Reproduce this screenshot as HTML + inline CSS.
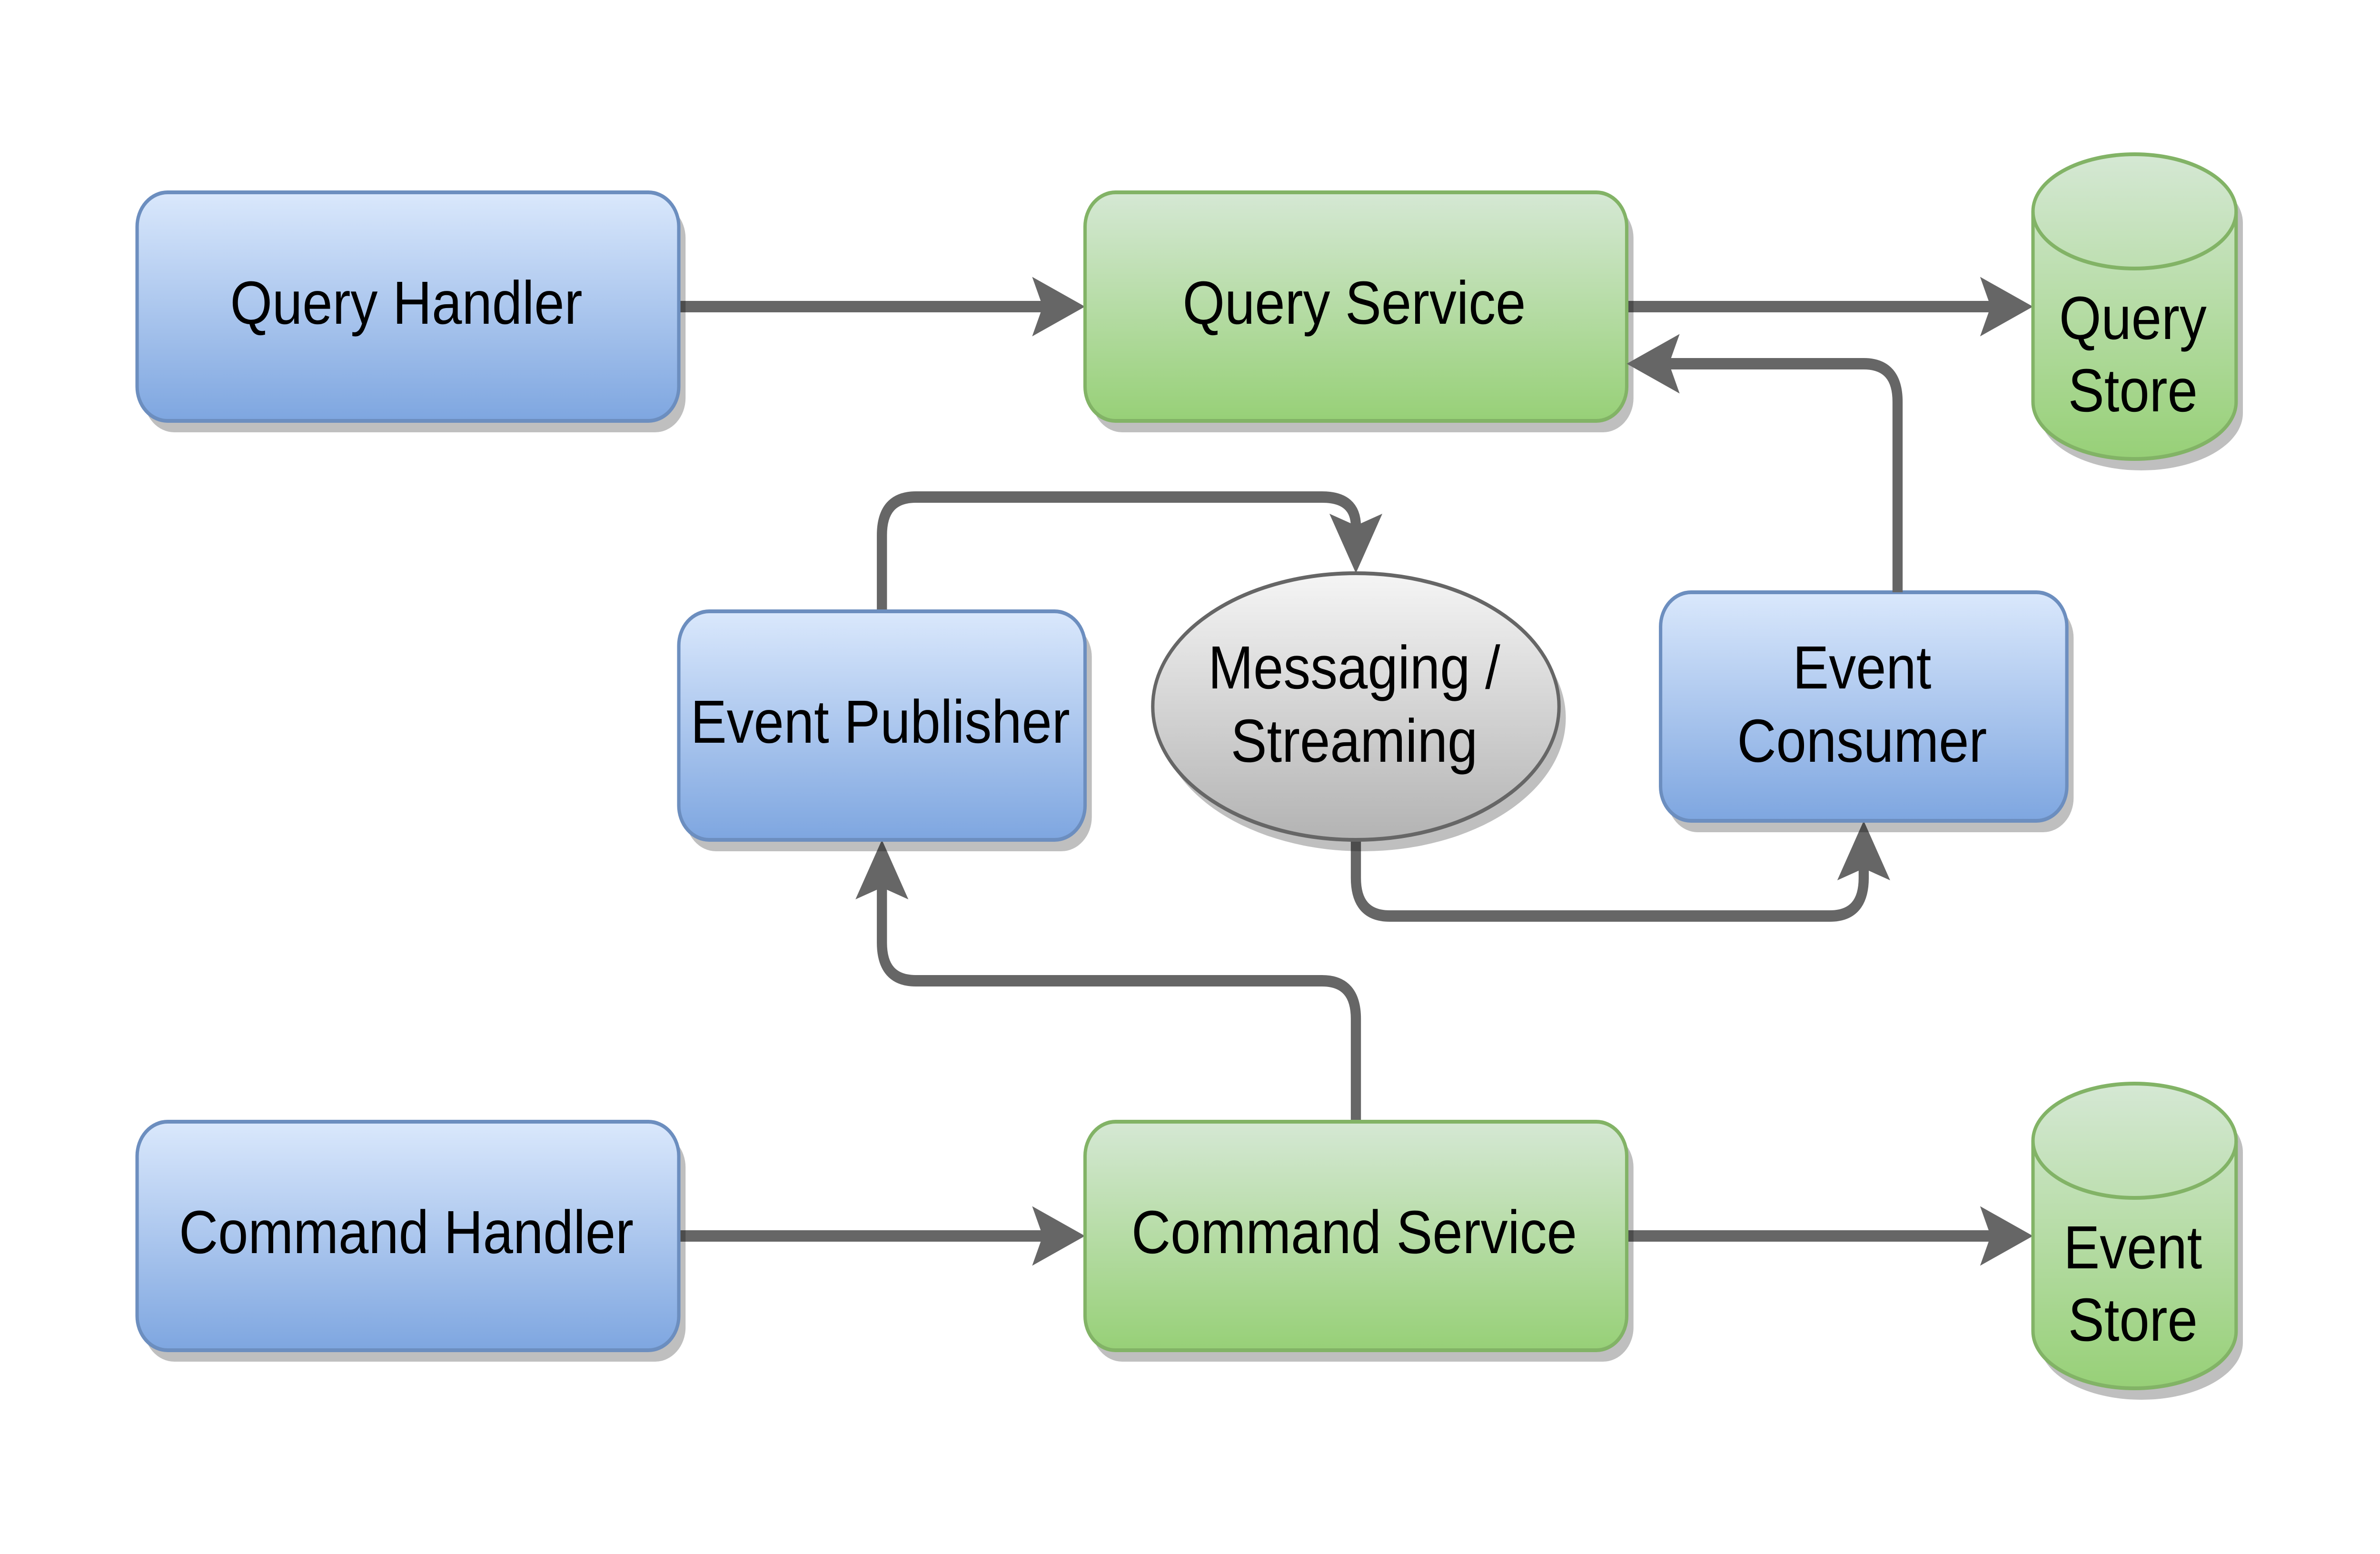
<!DOCTYPE html>
<html>
<head>
<meta charset="utf-8">
<title>Query and Command Architecture</title>
<style>
html,body{margin:0;padding:0;background:#fff;width:100%;height:100%;overflow:hidden}
svg{display:block;position:fixed;left:0;top:0;width:100vw;height:100vh}
text{font-family:"Liberation Sans",Arial,Helvetica,sans-serif;font-size:128px;fill:#000;text-anchor:middle;text-rendering:geometricPrecision}
.edge{fill:none;stroke:#666;stroke-width:24;stroke-linejoin:round}
.head{fill:#666;stroke:none}
.sh{fill:#000;fill-opacity:.25;stroke:none}
.blue{fill:url(#gb);stroke:#6c8ebf;stroke-width:8}
.green{fill:url(#gg);stroke:#82b366;stroke-width:8}
.gray{fill:url(#gy);stroke:#666;stroke-width:8}
</style>
</head>
<body>
<svg viewBox="0 0 5624 3264" preserveAspectRatio="none" xmlns="http://www.w3.org/2000/svg">
<defs>
<linearGradient id="gb" x1="0" y1="0" x2="0" y2="1"><stop offset="0" stop-color="#dae8fc"/><stop offset="1" stop-color="#7ea6e0"/></linearGradient>
<linearGradient id="gg" x1="0" y1="0" x2="0" y2="1"><stop offset="0" stop-color="#d5e8d4"/><stop offset="1" stop-color="#97d077"/></linearGradient>
<linearGradient id="gy" x1="0" y1="0" x2="0" y2="1"><stop offset="0" stop-color="#f5f5f5"/><stop offset="1" stop-color="#b3b3b3"/></linearGradient>
</defs>
<rect width="5624" height="3264" fill="#fff"/>

<!-- connectors beneath shapes -->
<path class="edge" d="M1604 644H2464"/>
<polygon class="head" points="2564,644 2439,581.5 2464,644 2439,706.5"/>
<path class="edge" d="M3844 644H4704"/>
<polygon class="head" points="4804,644 4679,581.5 4704,644 4679,706.5"/>
<path class="edge" d="M1604 2596H2464"/>
<polygon class="head" points="2564,2596 2439,2533.5 2464,2596 2439,2658.5"/>
<path class="edge" d="M3844 2596H4704"/>
<polygon class="head" points="4804,2596 4679,2533.5 4704,2596 4679,2658.5"/>
<path class="edge" d="M2084 1284V1124Q2084 1044 2164 1044H3124Q3204 1044 3204 1106"/>
<polygon class="head" points="3204,1204 3141.5,1079 3204,1104 3266.5,1079"/>
<path class="edge" d="M3204 1764V1844Q3204 1924 3284 1924H4324Q4404 1924 4404 1844V1822"/>
<polygon class="head" points="4404,1724 4341.5,1849 4404,1824 4466.5,1849"/>
<path class="edge" d="M3204 2356V2140Q3204 2060 3124 2060H2164Q2084 2060 2084 1980V1862"/>
<polygon class="head" points="2084,1764 2021.5,1889 2084,1864 2146.5,1889"/>

<!-- shadows -->
<g transform="translate(16 24)">
<rect class="sh" x="324" y="404" width="1280" height="480" rx="72" ry="72"/>
<rect class="sh" x="2564" y="404" width="1280" height="480" rx="72" ry="72"/>
<rect class="sh" x="1604" y="1284" width="960" height="480" rx="72" ry="72"/>
<rect class="sh" x="3924" y="1244" width="960" height="480" rx="72" ry="72"/>
<ellipse class="sh" cx="3204" cy="1484" rx="480" ry="280"/>
<rect class="sh" x="324" y="2356" width="1280" height="480" rx="72" ry="72"/>
<rect class="sh" x="2564" y="2356" width="1280" height="480" rx="72" ry="72"/>
<path class="sh" d="M4804 444A240 120 0 0 1 5284 444V844A240 120 0 0 1 4804 844Z"/>
<path class="sh" d="M4804 2396A240 120 0 0 1 5284 2396V2796A240 120 0 0 1 4804 2796Z"/>
</g>

<!-- shapes -->
<rect class="blue" x="324" y="404" width="1280" height="480" rx="72" ry="72"/>
<rect class="green" x="2564" y="404" width="1280" height="480" rx="72" ry="72"/>
<rect class="blue" x="1604" y="1284" width="960" height="480" rx="72" ry="72"/>
<rect class="blue" x="3924" y="1244" width="960" height="480" rx="72" ry="72"/>
<ellipse class="gray" cx="3204" cy="1484" rx="480" ry="280"/>
<rect class="blue" x="324" y="2356" width="1280" height="480" rx="72" ry="72"/>
<rect class="green" x="2564" y="2356" width="1280" height="480" rx="72" ry="72"/>
<path class="green" d="M4804 444A240 120 0 0 1 5284 444V844A240 120 0 0 1 4804 844Z"/>
<path d="M4804 444A240 120 0 0 0 5284 444" fill="none" stroke="#82b366" stroke-width="8"/>
<path class="green" d="M4804 2396A240 120 0 0 1 5284 2396V2796A240 120 0 0 1 4804 2796Z"/>
<path d="M4804 2396A240 120 0 0 0 5284 2396" fill="none" stroke="#82b366" stroke-width="8"/>

<!-- connector drawn above Query Service -->
<path class="edge" d="M4484 1244V844Q4484 764 4404 764H3942"/>
<polygon class="head" points="3844,764 3969,701.5 3944,764 3969,826.5"/>

<!-- labels -->
<text x="960" y="680">Query Handler</text>
<text x="3200" y="680">Query Service</text>
<text x="5040" y="712">Query</text>
<text x="5040" y="864">Store</text>
<text x="2080" y="1560">Event Publisher</text>
<text x="3200" y="1446">Messaging /</text>
<text x="3200" y="1600">Streaming</text>
<text x="4400" y="1446">Event</text>
<text x="4400" y="1600">Consumer</text>
<text x="960" y="2632">Command Handler</text>
<text x="3200" y="2632">Command Service</text>
<text x="5040" y="2664">Event</text>
<text x="5040" y="2816">Store</text>
</svg>
</body>
</html>
